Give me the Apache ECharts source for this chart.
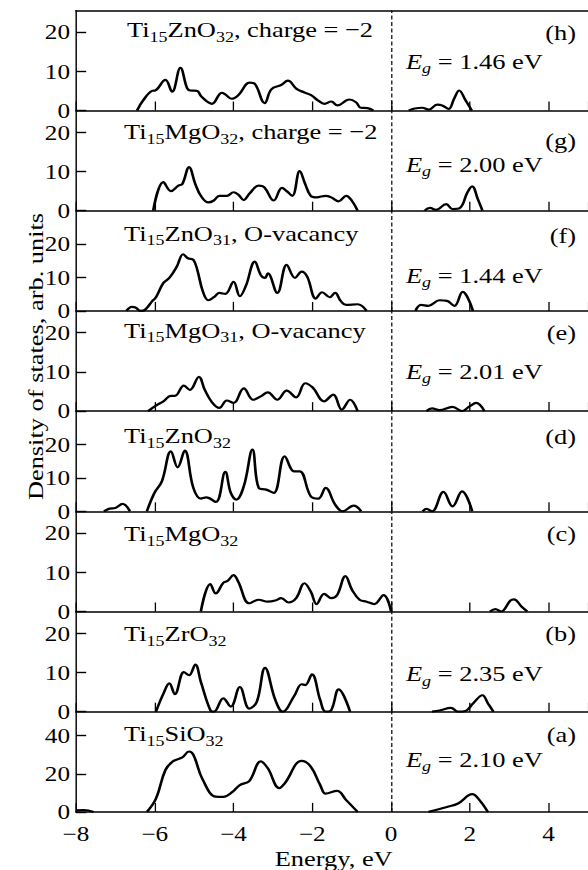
<!DOCTYPE html>
<html>
<head>
<meta charset="utf-8">
<script src="https://cdn.jsdelivr.net/npm/echarts@6/dist/echarts.min.js"></script>
<style>
    html, body { margin: 0; padding: 0; background: #fff; overflow: hidden; }
    /* the printed figure uses a wide serif face, so the whole chart is stretched sideways */
    #main { width: 490px; height: 870px; transform: scaleX(1.2); transform-origin: 0 0; }
</style>
</head>
<body>
<div id="main"></div>
<script>
// panels listed from top (h) to bottom (a)
var panelLetters = ['(h)', '(g)', '(f)', '(e)', '(d)', '(c)', '(b)', '(a)'];
var panelTitles = [
    'Ti_15ZnO_32, charge = −2',
    'Ti_15MgO_32, charge = −2',
    'Ti_15ZnO_31, O-vacancy',
    'Ti_15MgO_31, O-vacancy',
    'Ti_15ZnO_32',
    'Ti_15MgO_32',
    'Ti_15ZrO_32',
    'Ti_15SiO_32'
];
var gapValues = ['1.46', '2.00', '1.44', '2.01', null, null, '2.35', '2.10'];

// energy (eV) and density of states, null splits valence / conduction parts
var energyH = [-6.45,-6.3,-6.07,-5.99,-5.73,-5.56,-5.35,-5.18,-5.1,-4.93,-4.81,-4.55,-4.3,-4.22,-4.05,-3.88,-3.59,-3.46,-3.21,-3.04,-2.79,-2.62,-2.4,-2.2,-2.03,-1.86,-1.69,-1.52,-1.36,-1.06,-0.89,-0.77,-0.6,-0.45, null, 0.45,0.6,0.79,0.96,1.17,1.3,1.46,1.6,1.73,1.89,2.05];
var dosH    = [0,2.5,5.0,5.1,7.8,4.8,10.9,5.7,5.1,5.0,3.5,1.7,4.5,4.2,3.0,3.9,7.1,6.8,1.9,5.4,6.5,7.6,5.5,4.6,3.9,2.6,1.7,2.3,1.3,2.8,2.1,0.7,0.6,0, null, 0,0.5,0.7,0.2,1.5,1.3,0.4,3.0,5.1,2.6,0];

var energyG = [-6.04,-5.78,-5.59,-5.4,-5.3,-5.13,-4.97,-4.83,-4.64,-4.5,-4.36,-4.17,-4.0,-3.88,-3.74,-3.6,-3.36,-3.22,-2.98,-2.77,-2.65,-2.51,-2.32,-2.18,-2.04,-1.89,-1.66,-1.52,-1.33,-1.14,-1.0,-0.85, null, 0.85,0.99,1.14,1.4,1.56,1.75,1.94,2.06,2.2,2.32];
var dosG    = [0,7.3,5.0,6.4,6.8,11.1,6.8,3.8,2.1,2.6,3.8,3.8,4.7,4.1,2.7,4.3,6.4,6.0,2.6,5.8,5.0,3.8,10.1,6.8,3.8,3.4,3.8,3.4,2.4,3.8,2.6,0, null, 0,0.7,0.2,1.7,0.4,0.7,4.7,6.2,3.0,0];

var energyF = [-6.72,-6.58,-6.49,-6.36,-6.25,-6.06,-5.97,-5.78,-5.63,-5.44,-5.28,-5.16,-5.02,-4.92,-4.78,-4.64,-4.5,-4.36,-4.21,-4.0,-3.84,-3.69,-3.46,-3.31,-3.2,-3.13,-2.89,-2.65,-2.44,-2.27,-2.13,-1.91,-1.75,-1.56,-1.42,-1.28,-1.14,-0.85,-0.62, null, 0.62,0.76,0.95,1.23,1.42,1.61,1.82,1.94,2.08];
var dosF    = [0,1.2,1.0,0,0.3,3.0,4.1,8.4,9.9,13.3,17.0,15.8,15.3,12.3,5.9,3.2,4.1,5.4,5.1,8.7,4.4,7.4,14.8,10.8,9.9,11.3,5.4,13.8,9.9,11.8,10.3,3.7,5.6,4.1,5.4,3.0,1.8,2.0,0, null, 0,1.8,1.5,3.2,3.0,1.5,5.7,4.1,0];

var energyE = [-6.17,-5.97,-5.78,-5.59,-5.49,-5.26,-5.11,-4.88,-4.73,-4.55,-4.36,-4.17,-4.0,-3.74,-3.5,-3.31,-3.13,-2.89,-2.65,-2.41,-2.18,-1.99,-1.7,-1.47,-1.25,-1.04,-0.85, null, 0.9,1.04,1.23,1.56,1.8,2.0,2.16,2.37];
var dosE    = [0,1.4,2.5,3.9,3.9,6.5,5.4,8.75,5.4,2.3,0.8,2.7,2.1,5.8,2.9,3.75,4.8,2.9,5.2,3.5,7.1,6.0,2.5,4.2,0.4,2.9,0, null, 0,0.7,0.25,1.1,0,1.25,2.1,0];

var energyD = [-7.29,-7.15,-7.0,-6.82,-6.63, null, -6.2,-6.01,-5.82,-5.59,-5.42,-5.24,-5.02,-4.83,-4.69,-4.45,-4.21,-4.07,-3.93,-3.74,-3.52,-3.36,-3.17,-2.98,-2.7,-2.46,-2.32,-2.04,-1.85,-1.66,-1.42,-1.23,-0.95,-0.76, null, 0.8,0.9,1.04,1.33,1.56,1.8,2.06];
var dosD    = [0,0.8,1.0,2.2,0, null, 0,5.5,9,18,13.2,18.2,7,3.8,4.2,2.8,11.8,5.5,3.5,7.5,18.5,7,6.5,5.5,16.5,12,12,4.5,3.8,7,2,0,1.7,0, null, 0,0.7,0,5.8,1.5,6,0];

var energyC = [-4.83,-4.59,-4.45,-4.26,-4.15,-4.0,-3.88,-3.6,-3.36,-3.13,-2.94,-2.79,-2.6,-2.41,-2.2,-2.04,-1.89,-1.7,-1.52,-1.37,-1.16,-0.99,-0.8,-0.62,-0.43,-0.19,0, null, 2.51,2.65,2.79,3.03,3.12,3.31,3.46];
var dosC    = [0,7.0,4.6,7.3,7.8,9.3,7.6,2.1,3.0,2.5,2.8,3.4,2.3,3.4,7.2,5.1,1.9,4.5,3.4,4.2,9.0,5.5,3.0,2.5,1.9,4.2,0, null, 0,0.6,0,2.8,3.1,1.3,0];

var energyB = [-5.97,-5.78,-5.63,-5.49,-5.26,-5.13,-4.97,-4.83,-4.59,-4.5,-4.26,-4.07,-3.84,-3.6,-3.41,-3.2,-2.94,-2.75,-2.46,-2.27,-2.18,-2.01,-1.8,-1.66,-1.52,-1.33,-1.04, null, 1.04,1.23,1.52,1.7,1.89,2.08,2.32,2.46,2.6];
var dosB    = [0,4.6,7.2,4.5,10.1,9.3,12.0,7.6,0.4,0,3.4,1.3,6.3,0.8,2.5,11.2,3.0,0,4.0,7.0,6.8,9.5,3.0,0,0.4,5.7,0, null, 0,0.3,1.0,0,0.2,2.1,4.2,2.1,0];

var energyA = [-8,-7.8,-7.55, null, -6.2,-5.97,-5.73,-5.54,-5.3,-5.13,-5.02,-4.78,-4.45,-4.26,-4.02,-3.84,-3.6,-3.31,-3.13,-2.84,-2.7,-2.27,-2.04,-1.8,-1.66,-1.37,-1.14,-0.85, null, 0.95,1.42,1.7,2.06,2.23,2.46];
var dosA    = [0.8,1.0,0, null, 0,7,22,26.5,28.6,31.7,30,16.8,8,7.9,10.6,14.1,16.2,26.5,22.9,12.5,15,26.8,23.8,14.1,9.6,11,6.2,0, null, 0,2.6,4.4,9.3,6.6,0];

var panelEnergy = [energyH, energyG, energyF, energyE, energyD, energyC, energyB, energyA];
var panelDos = [dosH, dosG, dosF, dosE, dosD, dosC, dosB, dosA];

// ---- layout (y in page px, x in unstretched px) ----
var S = 1.2;
var font = 'Liberation Serif';
var gridLeft = 76 / S, gridWidth = (592 - 76) / S;
var panelTop0 = 10.5, panelStep = 100.2, panelH = 100;
var yMax = [25.5, 25.5, 30, 25.5, 30, 25.5, 25.5, 52.5];
var yStep = [10, 10, 10, 10, 10, 10, 10, 20];
var titleBase = [37, 139, 240.5, 337.5, 443, 541, 641, 741];
var letterMid = [32, 140, 235, 332.5, 436, 533.5, 633.5, 734];
var gapBase = [68.3, 171.5, 282.5, 378.5, null, null, 681, 766.5];

var myChart = echarts.init(document.getElementById('main'), null, { renderer: 'svg' });

function segments(E, D) {
    var segs = [], cur = [];
    for (var i = 0; i < E.length; i++) {
        if (E[i] === null) {
            if (cur.length) segs.push(cur);
            cur = [];
        } else {
            cur.push([E[i], D[i]]);
        }
    }
    if (cur.length) segs.push(cur);
    return segs;
}

function minus(v) {
    return v < 0 ? '\u2212' + Math.abs(v) : String(v);
}

function makeRich() {
    // height sets where each piece sits on the line: subscripts end up lower
    return {
        t:  { fontFamily: font, fontSize: 22, height: 30, verticalAlign: 'bottom', fill: '#000' },
        s:  { fontFamily: font, fontSize: 15, height: 16, verticalAlign: 'bottom', fill: '#000' },
        ti: { fontFamily: font, fontSize: 22, height: 30, verticalAlign: 'bottom', fill: '#000', fontStyle: 'italic' },
        si: { fontFamily: font, fontSize: 15, height: 16, verticalAlign: 'bottom', fill: '#000', fontStyle: 'italic' }
    };
}

var grids = [], xAxes = [], yAxes = [], series = [], graphics = [];

for (var i = 0; i < 8; i++) {
    var panelTop = panelTop0 + panelStep * i;
    var last = (i === 7);
    grids.push({ left: gridLeft, width: gridWidth, top: panelTop, height: panelH });
    xAxes.push({
        type: 'value', gridIndex: i, min: -8, max: 5, interval: 2,
        axisLine: { show: true, onZero: false, lineStyle: { color: '#000', width: 1.6 } },
        axisTick: { show: true, inside: true, length: 9, lineStyle: { color: '#000', width: 1.1 } },
        axisLabel: {
            show: last, showMaxLabel: false, margin: 11,
            fontFamily: font, fontSize: 21, color: '#000', formatter: minus
        },
        splitLine: { show: false }
    });
    (function (step) {
        yAxes.push({
            type: 'value', gridIndex: i, min: 0, max: yMax[i], interval: step,
            axisLine: { show: true, onZero: false, lineStyle: { color: '#000', width: 1.2 } },
            axisTick: { show: true, inside: true, length: 8.5, lineStyle: { color: '#000', width: 1.4 } },
            axisLabel: {
                margin: 5, showMaxLabel: false, fontFamily: font, fontSize: 21, color: '#000',
                formatter: function (v) { return v % step === 0 ? String(v) : ''; }
            },
            splitLine: { show: false }
        });
    })(yStep[i]);

    var segs = segments(panelEnergy[i], panelDos[i]);
    for (var k = 0; k < segs.length; k++) {
        var s = {
            type: 'line', xAxisIndex: i, yAxisIndex: i, data: segs[k],
            symbol: 'none', smooth: 0.4, clip: true, silent: true,
            lineStyle: { color: '#000', width: 2.2 }
        };
        if (k === 0) {
            s.markLine = {
                silent: true, symbol: ['none', 'none'], label: { show: false },
                lineStyle: { color: '#000', type: [4, 2.5], width: 1 },
                data: [{ xAxis: 0 }]
            };
        }
        series.push(s);
    }

    graphics.push({
        type: 'text', silent: true, x: (i === 0 ? 127 : 124) / S, y: titleBase[i] + 7.6,
        style: {
            text: '{t|' + panelTitles[i].replace(/_(\d+)/g, '}{s|$1}{t|') + '}',
            rich: makeRich(), align: 'left', verticalAlign: 'bottom'
        }
    });
    graphics.push({
        type: 'text', silent: true, x: 576 / S, y: letterMid[i],
        style: { text: panelLetters[i], fontFamily: font, fontSize: 22, fill: '#000', align: 'right', verticalAlign: 'middle' }
    });
    if (gapValues[i]) {
        graphics.push({
            type: 'text', silent: true, x: 406 / S, y: gapBase[i] + 7.6,
            style: {
                text: '{ti|E}{si|g}{t| = ' + gapValues[i] + ' eV}',
                rich: makeRich(), align: 'left', verticalAlign: 'bottom'
            }
        });
    }
}

// frame line on top of the upper panel
xAxes.push({
    type: 'value', gridIndex: 0, position: 'top', min: -8, max: 5,
    axisLine: { show: true, onZero: false, lineStyle: { color: '#000', width: 1.6 } },
    axisTick: { show: false }, axisLabel: { show: false }, splitLine: { show: false }
});

// axis titles
graphics.push({
    type: 'text', silent: true, x: 333.7 / S, y: 858.5,
    style: { text: 'Energy, eV', fontFamily: font, fontSize: 22, fill: '#000', align: 'center', verticalAlign: 'middle' }
});
graphics.push({
    type: 'text', silent: true, x: 35.7 / S, y: 356.5, rotation: Math.PI / 2,
    scaleX: S, scaleY: 1 / S,
    style: { text: 'Density of states, arb. units', fontFamily: font, fontSize: 22, fill: '#000', align: 'center', verticalAlign: 'middle' }
});

var option = {
    animation: false,
    backgroundColor: '#fff',
    grid: grids,
    xAxis: xAxes,
    yAxis: yAxes,
    series: series,
    graphic: graphics
};
myChart.setOption(option);
</script>
</body>
</html>
